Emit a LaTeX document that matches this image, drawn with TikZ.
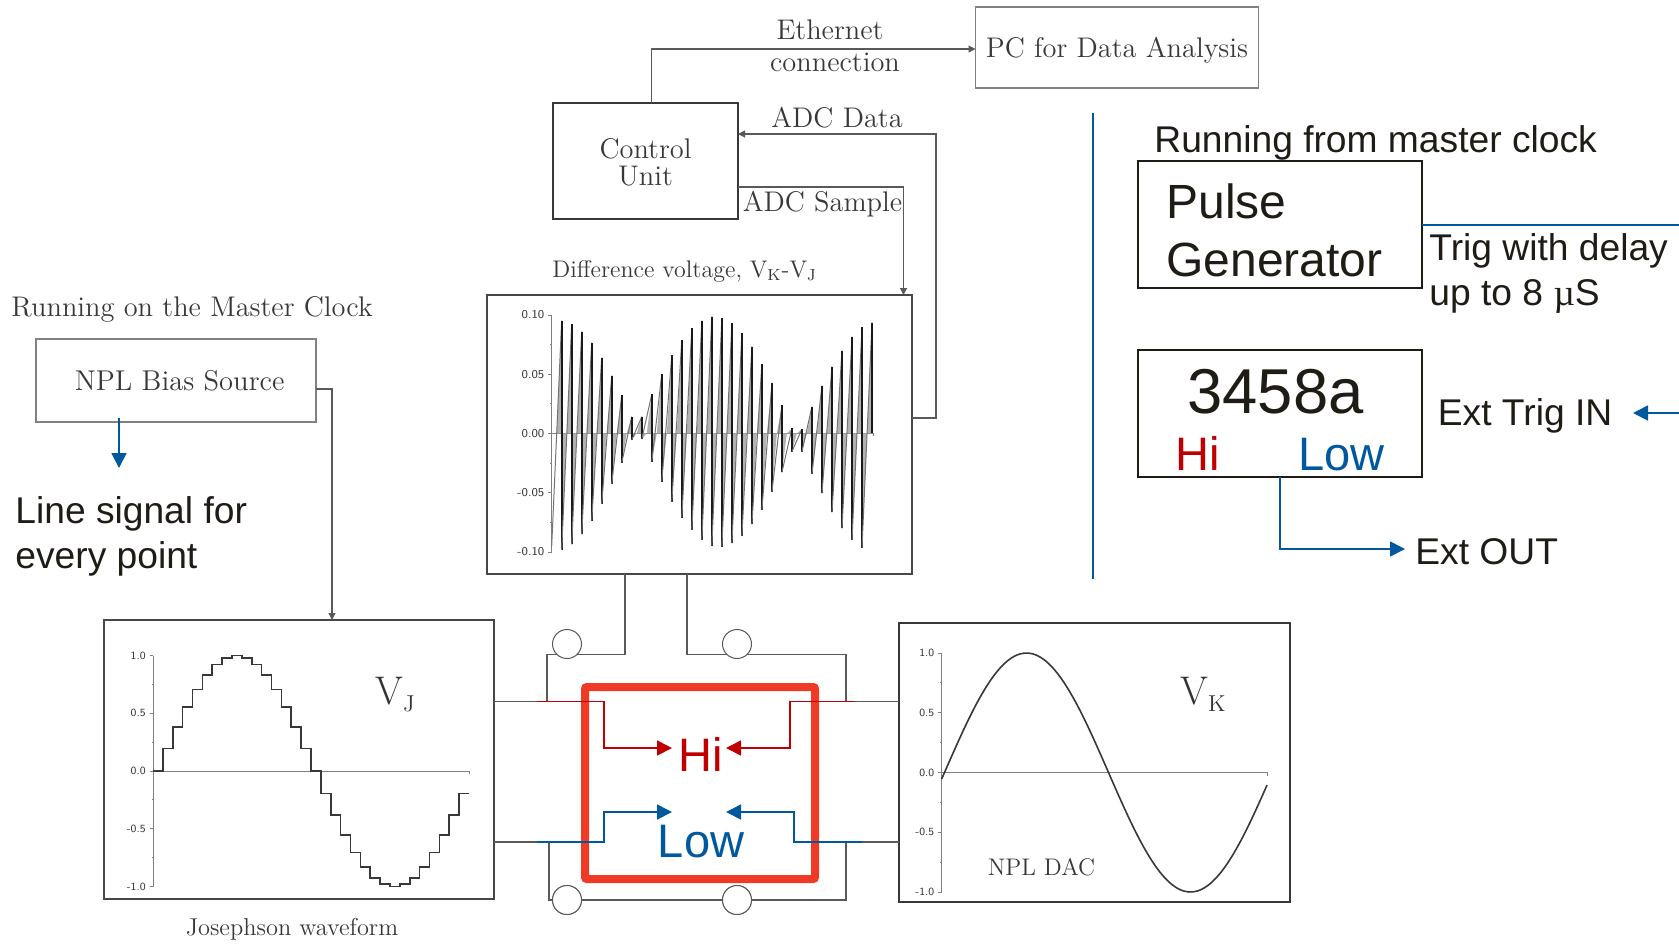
\documentclass[tikz,border=0pt]{standalone}
\usepackage{fontspec}
\usepackage{tikz}
\usetikzlibrary{arrows.meta}
\newfontfamily\arialfont{Liberation Sans}
\newfontfamily\timesfont{Liberation Serif}
\definecolor{inkgrey}{HTML}{383838}
\definecolor{wiregrey}{HTML}{595959}
\definecolor{sigblue}{HTML}{00589E}
\definecolor{sigred}{HTML}{C00000}
\definecolor{framered}{HTML}{F03A25}
\definecolor{inkblack}{HTML}{1E1C14}
\newcommand{\axisticks}[5]{%
  \foreach \v/\l [count=\i] in {#4} {
    \draw[axisline] (#1-3.5,{#2-#3*\v}) -- (#1,{#2-#3*\v});
    \node[ticklab,#5,anchor=east] (t#1-\i) at (#1-7,{#2-#3*\v}) {\l};
  }
}
\newcommand{\axisminor}[3]{%
  \foreach \m in {0.75,0.25,-0.25,-0.75} {
    \draw[axisline] (#1-1.5,{#2-#3*\m}) -- (#1,{#2-#3*\m});
  }
}
\newcommand{\vsub}[1]{V\raisebox{-3.5pt}{\fontsize{11.5}{11.5}\selectfont #1}}
\begin{document}
\begin{tikzpicture}[x=0.5pt,y=-0.5pt,
    box/.style={draw=inkblack,line width=0.6pt,inner sep=0pt,outer sep=0pt},
    greybox/.style={draw=gray,line width=0.6pt,inner sep=0pt,outer sep=0pt,text=inkgrey,font=\fontsize{14.2}{14.2}\selectfont,align=center},
    plotbox/.style={draw=wiregrey!80!black,line width=1pt,inner sep=0pt,outer sep=0pt},
    scan/.style={text=inkgrey,inner sep=0pt,font=\fontsize{14.2}{14.2}\selectfont},
    sans/.style={text=inkblack,inner sep=0pt,font=\arialfont\fontsize{18.6}{18.6}\selectfont},
    ticklab/.style={text=inkgrey,inner sep=0pt,font=\sffamily\fontsize{5.5}{5.5}\selectfont},
    axisline/.style={draw=gray,line width=0.5pt},
    wire/.style={draw=wiregrey,line width=0.6pt},
    wave/.style={draw=inkgrey,line width=0.8pt},
    wirearrow/.style={wire,-{Triangle[length=3.5pt,width=3.5pt]}},
    bluearrow/.style={draw=sigblue,line width=0.85pt,-{Triangle[length=7.5pt,width=7.5pt]}},
    redarrow/.style={draw=sigred,line width=0.85pt,-{Triangle[length=7.5pt,width=7.5pt]}},
    port/.style={circle,draw=wiregrey,line width=0.5pt,minimum size=14.5pt,inner sep=0pt,outer sep=0pt,fill=white}]
\useasboundingbox (0,0) rectangle (1679,943);
% top boxes
\node[greybox,text height=13pt,text depth=3pt,minimum width=141.5pt,minimum height=40.5pt] (PC) at (1117,47.5) {PC for Data Analysis};
\node[box,draw=inkgrey,text=inkgrey,font=\fontsize{14.2}{14.2}\selectfont,align=center,minimum width=92.5pt,minimum height=58pt] (CU) at (645.5,161) {\rule{0pt}{11pt}Control\\[-0.5pt]Unit};
\node[greybox,font=\fontsize{14.3}{14.3}\selectfont,minimum width=140pt,minimum height=41.5pt] (NB) at (176,380.5) {\hspace*{3.7pt}NPL Bias Source};
% plots
\node[plotbox,minimum width=212.5pt,minimum height=139.5pt] (DV) at (699.5,434.5) {};
\node[plotbox,minimum width=195pt,minimum height=139.5pt] (VJ) at (299,759.5) {};
\node[plotbox,draw=inkgrey,minimum width=195.5pt,minimum height=139.5pt] (VK) at (1094.5,762.5) {};
% labels
\node[scan,anchor=center] (eth) at (830,30) {Ethernet};
\node[scan,anchor=center] (conn) at (835,62) {connection};
\node[scan,anchor=center] (adcd) at (837,118) {ADC Data};
\node[scan,anchor=center] (adcs) at (822.5,204) {ADC Sample};
\node[scan,anchor=base west,font=\fontsize{12}{12}\selectfont] (diff) at (552,277) {Difference voltage, V\textsubscript{K}-V\textsubscript{J}};
\node[scan,anchor=base west] (mclk) at (11,316) {Running on the Master Clock};
\node[scan,anchor=center,font=\fontsize{12.2}{12.2}\selectfont] (jos) at (292,929) {Josephson waveform};
\node[scan,anchor=center,font=\fontsize{12}{12}\selectfont] (dac) at (1041.5,867) {NPL DAC};
\node[scan,anchor=base west,text=black!80,font=\fontsize{20}{20}\selectfont] (vjl) at (375,704) {\vsub{J}};
\node[scan,anchor=base west,text=black!80,font=\fontsize{20}{20}\selectfont] (vkl) at (1180,704) {\vsub{K}};
% difference plot
\draw[axisline] (551.7,315) -- (551.7,552);
\axisticks{551.7}{433.5}{118.5}{1/0.10,0.5/0.05,0/0.00,-0.5/-0.05,-1/-0.10}{font=\sffamily\fontsize{6}{6}\selectfont}
\axisminor{551.7}{433.5}{118.5}
\draw[axisline] (551.7,433.5) -- (873,433.5) -- ++(0,2.5);
\begin{scope}[shift={(480,280)},x=0.16667pt,y=-0.16667pt]
\foreach \t/\b [count=\k, remember=\b as \pb (initially 800)] in {122/810,132/793,155/763,188/722,233/672,287/612,345/548,410/480,410/478,343/545,282/605,225/665,180/713,145/750,122/780,110/797,115/800,130/790,160/768,200/733,252/690,310/636,375/577,445/515,447/515,380/582,317/640,260/697,212/745,170/780,142/803,128/460} {
  \pgfmathsetmacro\px{245+30.03*(\k-1)}
  \fill[black!30] (\px,\t) -- ({\px-15},460) -- (\px,460) -- cycle;
  \fill[black!30] (\px,\b) -- ({\px+15},460) -- (\px,460) -- cycle;
  \draw[draw=black!55,line width=0.5pt] ({\px-30.03},\pb) -- (\px,\t);
  \draw[draw=black!90,line width=0.9pt] (\px,\t) -- (\px,\b);
}
\end{scope}
% Josephson plot
\draw[axisline] (153,655.5) -- (153,886.5);
\axisticks{153}{771}{115.5}{1/1.0,0.5/0.5,0/0.0,-0.5/-0.5,-1/-1.0}{}
\axisminor{153}{771}{115.5}
\draw[axisline] (153,771) -- (469,771) -- ++(0,3);
\draw[wave] plot[const plot,samples at={0,...,31}] ({153+9.875*\x},{771-115.5*sin(\x*11.25)}) -- ++(9.875,0);
% DAC plot
\draw[axisline] (941.7,653) -- (941.7,892);
\axisticks{941.7}{772.5}{119.5}{1/1.0,0.5/0.5,0/0.0,-0.5/-0.5,-1/-1.0}{}
\axisminor{941.7}{772.5}{119.5}
\draw[axisline] (941.7,772.5) -- (1267,772.5) -- ++(0,3);
\draw[wave,smooth] plot[domain=941.7:1267,samples=80] (\x,{772.5-119.5*sin((1108.5-\x)*1.09756)});
% control connections
\draw[wirearrow] ([xshift=3pt]CU.north) |- ([yshift=-0.75pt]PC.west);
\coordinate (adcd1) at (936,134);
\coordinate (adcs1) at (903.5,187);
\draw[wirearrow] ([yshift=8.25pt]DV.east) -| (adcd1) -- (CU.east |- adcd1);
\draw[wirearrow] (CU.east |- adcs1) -- (adcs1) -- (adcs1 |- DV.north);
\coordinate (nb1) at (332,389);
\draw[wirearrow] (NB.east |- nb1) -- (nb1) -- (nb1 |- VJ.north);
% junction bridge
\node[port] (p1) at (567,644) {};
\node[port] (p2) at (737,644) {};
\node[port] (p3) at (567,900) {};
\node[port] (p4) at (737,900) {};
\coordinate (HL) at (537,701.5);
\coordinate (HR) at (854,701.5);
\coordinate (LL) at (537,842);
\coordinate (LR) at (862,842);
\draw[wire] (VJ.east |- HL) -- (HL);
\draw[wire] (VK.west |- HR) -- (HR);
\draw[wire] (VJ.east |- LL) -- (LL);
\draw[wire] (VK.west |- LR) -- (LR);
\draw[wire] (625,574) |- (p1.south east);
\draw[wire] (p1.south west) -| (547,701.5);
\draw[wire] (687,574) |- (p2.south west);
\draw[wire] (p2.south east) -| (846,701.5);
\draw[wire] (549,842) |- (p3.west);
\draw[wire] (p3) -- (p4);
\draw[wire] (p4.east) -| (846,842);
\node[port] at (p3) {};
\node[port] at (p4) {};
\node[draw=framered,line width=4pt,rounded corners=1pt,inner sep=0pt,outer sep=0pt,minimum width=115pt,minimum height=96pt] (RF) at (700,783) {};
\node[anchor=base,inner sep=3pt,text=sigred,font=\arialfont\fontsize{23.5}{23.5}\selectfont] (Hi) at (701,771) {Hi};
\node[anchor=base,inner sep=3pt,text=sigblue,font=\arialfont\fontsize{23.5}{23.5}\selectfont] (Low) at (701,857) {Low};
\coordinate (lle) at (672,812);
\coordinate (lre) at (726,812);
\draw[redarrow] (HL) -| (604,748) -- (672,748);
\draw[redarrow] (HR) -| (790,748) -- (726,748);
\draw[bluearrow] (LL) -| (604,812) -- (lle);
\draw[bluearrow] (LR) -| (794,812) -- (lre);
% line signal
\coordinate (ls) at (119,468);
\draw[bluearrow] (ls |- 0,418) -- (ls);
\node[sans,anchor=base west] (ls1) at (15,523) {Line signal for};
\node[sans,anchor=base west] (ls2) at (15,568) {every point};
% instruments
\draw[draw=sigblue,line width=0.7pt] (1093,113) coordinate (sep1) -- (1093,579) coordinate (sep2);
\node[sans,anchor=base west] (rmc) at (1154,152) {Running from master clock};
\node[box,minimum width=142pt,minimum height=63.5pt] (PG) at (1280,224.5) {};
\node[sans,anchor=base west,font=\arialfont\fontsize{24}{24}\selectfont] (pg1) at (1166,218) {Pulse};
\node[sans,anchor=base west,font=\arialfont\fontsize{24}{24}\selectfont] (pg2) at (1166,276) {Generator};
\coordinate (trg) at (1679,225);
\draw[draw=sigblue,line width=0.8pt] (PG.east |- trg) -- (trg);
\node[sans,anchor=base west] (td1) at (1429,260) {Trig with delay};
\node[sans,anchor=base west] (td2) at (1429,305) {up to 8 {\timesfont µ}S};
\node[box,minimum width=142pt,minimum height=63.5pt] (DM) at (1280,413.5) {};
\node[sans,anchor=base west,font=\arialfont\fontsize{31.7}{31.7}\selectfont] (dm) at (1187,413) {3458a};
\node[anchor=base west,inner sep=0pt,text=sigred,font=\arialfont\fontsize{23.5}{23.5}\selectfont] (dmh) at (1175,470) {Hi};
\node[anchor=base west,inner sep=0pt,text=sigblue,font=\arialfont\fontsize{23.5}{23.5}\selectfont] (dml) at (1298,470) {Low};
\node[sans,anchor=base west] (etr) at (1437.5,425) {Ext Trig IN};
\coordinate (etr1) at (1679,413);
\draw[bluearrow] (etr1) -- (1633,413);
\node[sans,anchor=base west] (eo) at (1415,564) {Ext OUT};
\draw[bluearrow] (DM.south) |- (1405,549);
\end{tikzpicture}
\end{document}
